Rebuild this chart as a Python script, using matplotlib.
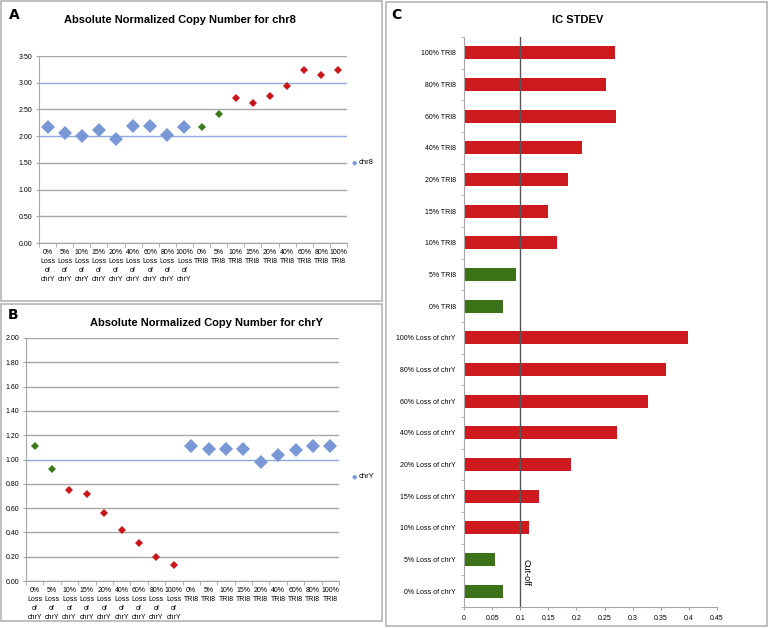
import numpy as np
import matplotlib
matplotlib.use("Agg")
import matplotlib.pyplot as plt
from matplotlib.patches import Rectangle

plt.rcParams['font.family'] = ['Liberation Sans', 'DejaVu Sans']

loss_labels = ["0%\nLoss\nof\nchrY", "5%\nLoss\nof\nchrY", "10%\nLoss\nof\nchrY", "15%\nLoss\nof\nchrY",
               "20%\nLoss\nof\nchrY", "40%\nLoss\nof\nchrY", "60%\nLoss\nof\nchrY", "80%\nLoss\nof\nchrY",
               "100%\nLoss\nof\nchrY"]
tri_labels = ["0%\nTRI8", "5%\nTRI8", "10%\nTRI8", "15%\nTRI8", "20%\nTRI8", "40%\nTRI8",
              "60%\nTRI8", "80%\nTRI8", "100%\nTRI8"]
x_labels = loss_labels + tri_labels

chr8_values = [2.17, 2.06, 2.00, 2.11, 1.95, 2.19, 2.19, 2.02, 2.17,
               2.17, 2.41, 2.71, 2.62, 2.76, 2.94, 3.23, 3.15, 3.23]
chr8_groups = ["blue"] * 9 + ["green"] * 2 + ["red"] * 7

chry_values = [1.11, 0.92, 0.75, 0.72, 0.56, 0.42, 0.31, 0.20, 0.13,
               1.11, 1.09, 1.09, 1.09, 0.98, 1.04, 1.08, 1.11, 1.11]
chry_groups = ["green"] * 2 + ["red"] * 7 + ["blue"] * 9

# panel C, listed bottom to top
stdev_labels = ["0% Loss of chrY", "5% Loss of chrY", "10% Loss of chrY", "15% Loss of chrY",
                "20% Loss of chrY", "40% Loss of chrY", "60% Loss of chrY", "80% Loss of chrY",
                "100% Loss of chrY", "0% TRI8", "5% TRI8", "10% TRI8", "15% TRI8", "20% TRI8",
                "40% TRI8", "60% TRI8", "80% TRI8", "100% TRI8"]
stdev_values = [0.070, 0.055, 0.116, 0.134, 0.190, 0.273, 0.328, 0.360, 0.398,
                0.070, 0.093, 0.165, 0.150, 0.185, 0.210, 0.270, 0.252, 0.268]
stdev_groups = ["green"] * 2 + ["red"] * 7 + ["green"] * 2 + ["red"] * 7
cutoff = 0.1

colors = {"blue": "#7b98d6", "green": "#3c7a1c", "red": "#c8161d"}
bar_colors = {"green": "#3d7318", "red": "#cc1a1f"}
grid_gray = "#a6a6a6"
ref_blue = "#8eaadf"

fig = plt.figure(figsize=(7.69, 6.28), dpi=100)

# panel frames
for (x0, y0, x1, y1) in [(1, 1, 382, 301), (1, 304, 382, 621), (386, 2, 767, 626)]:
    fig.patches.append(Rectangle((x0 / 769, 1 - y1 / 628), (x1 - x0) / 769, (y1 - y0) / 628,
                                 transform=fig.transFigure, fill=False, edgecolor="#b4b4b4", linewidth=1.2))


def scatter_panel(rect, values, groups, ymax, step, ref_lines, title, title_x, title_y, legend_label, legend_y):
    ax = fig.add_axes(rect)
    x = np.arange(len(values))
    yt = np.arange(0, ymax + step / 2, step)
    for v in yt:
        c = ref_blue if np.isclose(v, ref_lines).any() else grid_gray
        ax.axhline(v, color=c, linewidth=1.0, zorder=1)
    for g, ms in [("blue", 7), ("green", 4.4), ("red", 4.4)]:
        idx = [i for i, gg in enumerate(groups) if gg == g]
        ax.plot(x[idx], np.array(values)[idx], linestyle="none", marker="D", markersize=ms,
                color=colors[g], markeredgewidth=0, zorder=3)
    ax.set_xlim(-0.5, len(values) - 0.5)
    ax.set_ylim(0, ymax)
    ax.set_yticks(yt)
    ax.set_yticklabels([f"{v:.2f}" for v in yt], fontsize=5)
    ax.set_xticks(x)
    ax.set_xticklabels(x_labels, fontsize=5, linespacing=1.45, va="top")
    ax.set_xticks(np.arange(-0.5, len(values), 1), minor=True)
    ax.tick_params(axis="x", which="major", length=0, pad=4)
    ax.tick_params(axis="x", which="minor", length=3, color=grid_gray)
    ax.tick_params(axis="y", length=2, color=grid_gray, pad=3)
    for s in ["top", "right"]:
        ax.spines[s].set_visible(False)
    ax.spines["left"].set_color(grid_gray)
    ax.spines["bottom"].set_color(grid_gray)
    fig.text(title_x / 769, 1 - title_y / 628, title, fontsize=8, fontweight="bold", ha="center", va="center")
    fig.text(355 / 769, 1 - legend_y / 628, "\u25c6", color=colors["blue"], fontsize=5,
             ha="center", va="center", family="DejaVu Sans")
    fig.text(359 / 769, 1 - legend_y / 628, legend_label, fontsize=5.5, ha="left", va="center")
    return ax


scatter_panel([39 / 769, 1 - 243 / 628, 308 / 769, 187 / 628], chr8_values, chr8_groups, 3.5, 0.5,
              [2.0, 3.0], "Absolute Normalized Copy Number for chr8", 180, 20, "chr8", 163)
scatter_panel([26 / 769, 1 - 581 / 628, 313 / 769, 243 / 628], chry_values, chry_groups, 2.0, 0.2,
              [1.0], "Absolute Normalized Copy Number for chrY", 207, 323, "chrY", 477)

# panel C
axc = fig.add_axes([464 / 769, 1 - 607 / 628, 253 / 769, 570 / 628])
yc = np.arange(len(stdev_values))
axc.barh(yc, stdev_values, height=0.42, color=[bar_colors[g] for g in stdev_groups], zorder=2)
axc.axvline(cutoff, color="#555555", linewidth=1.0, zorder=3)
axc.text(cutoff + 0.002, 0.6, "Cut-off", rotation=-90, fontsize=6.5, ha="left", va="center")
axc.set_ylim(-0.5, len(stdev_values) - 0.5)
axc.set_xlim(0, 0.45)
axc.set_xticks(np.arange(0, 0.451, 0.05))
axc.set_xticklabels(["0", "0.05", "0.1", "0.15", "0.2", "0.25", "0.3", "0.35", "0.4", "0.45"], fontsize=5)
axc.set_yticks(yc)
axc.set_yticklabels(stdev_labels, fontsize=5)
axc.set_yticks(np.arange(-0.5, len(stdev_values), 1), minor=True)
axc.tick_params(axis="y", which="major", length=0, pad=6)
axc.tick_params(axis="y", which="minor", length=2.5, color=grid_gray)
axc.tick_params(axis="x", length=2.5, color=grid_gray, pad=3)
for s in ["top", "right"]:
    axc.spines[s].set_visible(False)
axc.spines["left"].set_color(grid_gray)
axc.spines["bottom"].set_color(grid_gray)
fig.text(578 / 769, 1 - 20 / 628, "IC STDEV", fontsize=8, fontweight="bold", ha="center", va="center")

for lab, (px, py) in zip(["A", "B", "C"], [(14, 15), (13, 315), (396, 15)]):
    fig.text(px / 769, 1 - py / 628, lab, fontsize=10, fontweight="bold", ha="center", va="center",
             family="DejaVu Sans")

fig.savefig("out.png", dpi=100)
